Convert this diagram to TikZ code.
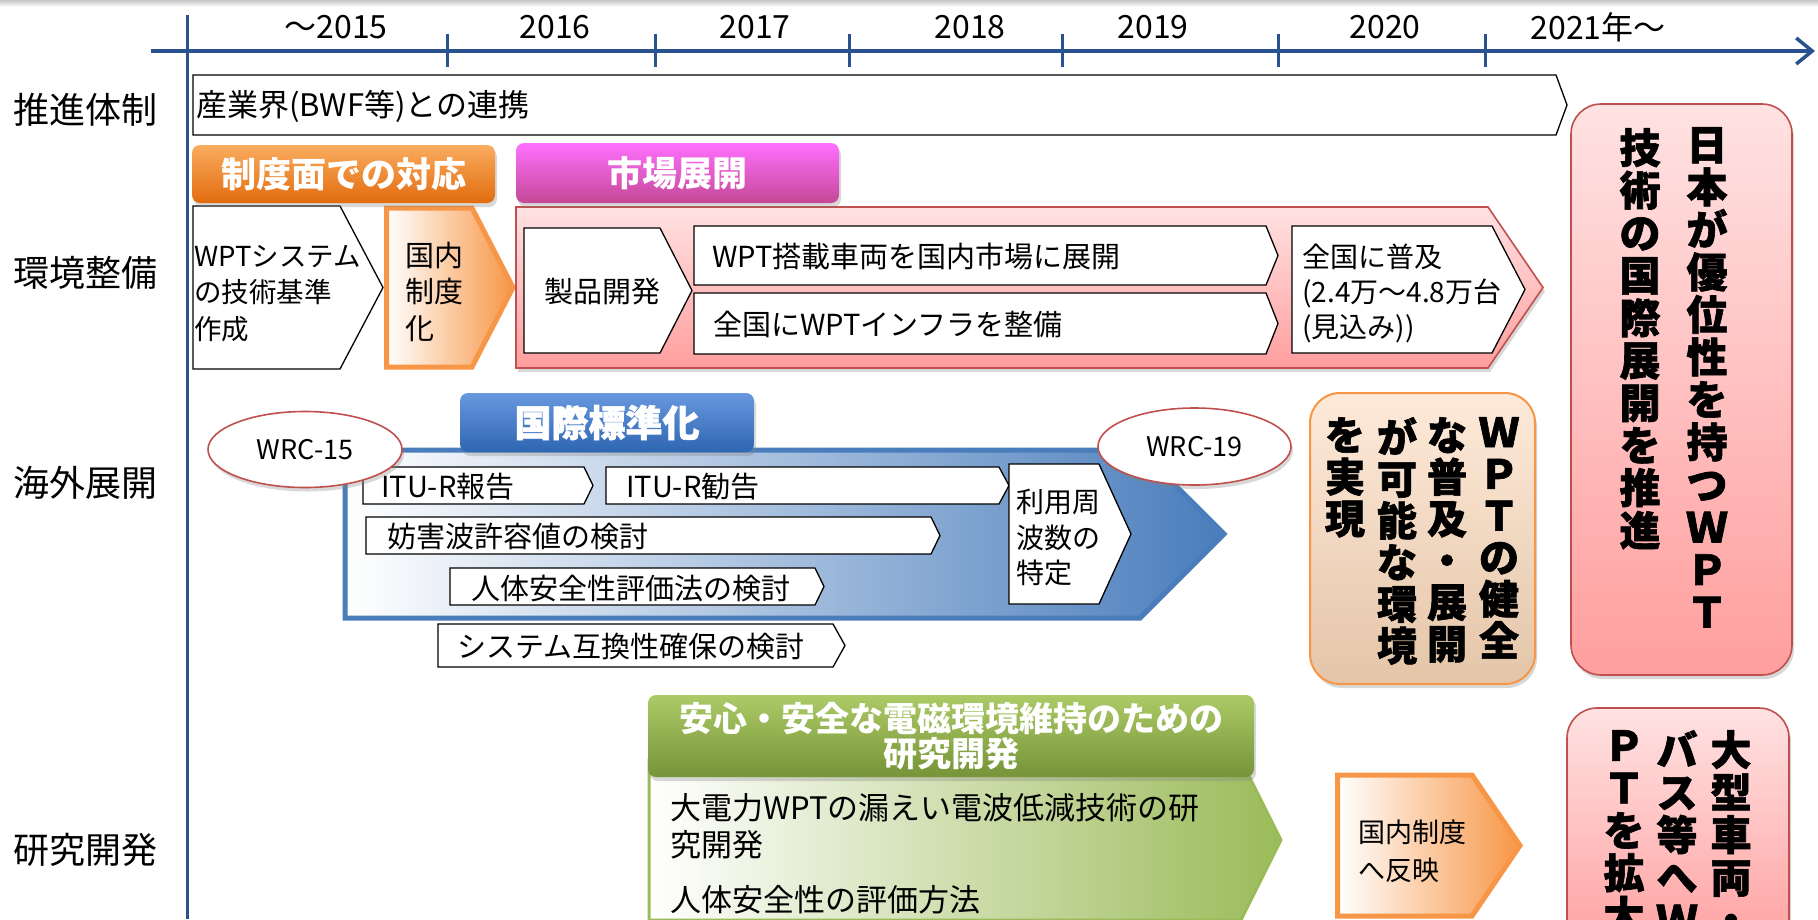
\documentclass[tikz,border=0pt]{standalone}
\usepackage{fontspec}
\setmainfont{Noto Sans CJK JP}
\newfontfamily\heavy[FakeBold=1.5]{Noto Sans CJK JP}
\usetikzlibrary{shadows,arrows.meta,shapes.geometric}
\newcommand\fsz[2]{\fontsize{#1}{#2}\selectfont}
\definecolor{axisblue}{RGB}{41,82,143}
\definecolor{orgA}{RGB}{250,172,95}
\definecolor{orgB}{RGB}{226,108,14}
\definecolor{orgline}{RGB}{247,150,70}
\definecolor{magA}{RGB}{255,112,255}
\definecolor{magB}{RGB}{196,72,150}
\definecolor{bluA}{RGB}{104,152,222}
\definecolor{bluB}{RGB}{46,102,178}
\definecolor{grnA}{RGB}{172,202,102}
\definecolor{grnB}{RGB}{118,148,56}
\definecolor{pinkA}{RGB}{255,226,226}
\definecolor{pinkB}{RGB}{255,158,158}
\definecolor{pinkline}{RGB}{192,80,77}
\definecolor{peachA}{RGB}{254,234,218}
\definecolor{peachM}{RGB}{251,212,175}
\definecolor{peachB}{RGB}{228,197,168}
\definecolor{steel}{RGB}{74,125,188}
\definecolor{steelM}{RGB}{186,202,226}
\definecolor{olive}{RGB}{155,187,89}
\definecolor{oliveM}{RGB}{208,222,178}
\definecolor{orgM}{RGB}{251,208,176}
\tikzset{
  axisline/.style={draw=axisblue,line width=3.5pt},
  year/.style={inner sep=0,font=\fsz{32}{36}},
  rowlab/.style={inner sep=0,font=\fsz{36}{40}},
  box/.style={draw=black,line width=1.3pt,fill=white},
  txt/.style={inner sep=0,align=left,font=\fsz{29}{36.5}},
  shd/.style={drop shadow={opacity=0.3,shadow xshift=2pt,shadow yshift=-4pt}},
  hdr/.style={rounded corners=8pt,inner sep=0,text=white,font=\bfseries\fsz{35}{36},shd},
  vtext/.style={inner sep=0,align=center,font=\heavy\bfseries\fsz{41}{42.5}},
  orgchev/.style={draw=orgline,line width=5pt,left color=white,middle color=orgM,right color=orgline},
  goalpink/.style={draw=pinkline,line width=1.6pt,rounded corners=30pt,top color=pinkA,bottom color=pinkB,shd},
}
\begin{document}
\begin{tikzpicture}[x=1pt,y=-1pt]
\useasboundingbox (0,0) rectangle (1818,919);
\clip (0,0) rectangle (1818,919);
\fill[white] (0,0) rectangle (1818,919);
\shade[top color=black!22,bottom color=white] (0,0) rectangle (1818,7);
% axis
\coordinate (ax0) at (151,51);
\coordinate (ax1) at (1815,51);
\coordinate (av0) at (187,15);
\coordinate (av1) at (187,919);
\draw[axisline,-{Straight Barb[length=16pt,width=26pt]}] (ax0) -- (ax1);
\draw[axisline,line width=3pt] (av0) -- (av1);
\foreach \x in {447,655,849,1062,1278,1485}{
  \coordinate (t\x a) at (\x,34);
  \coordinate (t\x b) at (\x,67);
  \draw[axisline,line width=3pt] (t\x a) -- (t\x b);
}
\node[year] (y15) at (336,27) {～2015};
\node[year] (y16) at (555,27) {2016};
\node[year] (y17) at (755,27) {2017};
\node[year] (y18) at (970,27) {2018};
\node[year] (y19) at (1153,27) {2019};
\node[year] (y20) at (1385,27) {2020};
\node[year] (y21) at (1598,27) {2021年～};
% row labels
\node[rowlab] (r1) at (85,110) {推進体制};
\node[rowlab] (r2) at (85,273) {環境整備};
\node[rowlab] (r3) at (85,483) {海外展開};
\node[rowlab] (r4) at (85,850) {研究開発};
% row 1
\path[box] (193,75) -- (1556,75) -- (1567,105) -- (1556,135) -- (193,135) -- cycle;
\node[txt,anchor=west,font=\fsz{31}{36}] (renkei) at (196,106) {産業界(BWF等)との連携};
% row 2
\path[box] (193,206) -- (340,206) -- (383,287.5) -- (340,369) -- (193,369) -- cycle;
\node[txt,anchor=base west,font=\fsz{27.5}{36.5}] (kijun) at (194,339) {WPTシステム\\の技術基準\\作成};
\path[orgchev] (386.5,208) -- (472,208) -- (513,287.5) -- (472,367) -- (386.5,367) -- cycle;
\node[txt,anchor=base west] (seidoka) at (405,339) {国内\\制度\\化};
\path[draw=pinkline,line width=1.6pt,top color=pinkA,bottom color=pinkB,shd]
  (516,207) -- (1488,207) -- (1543,287.5) -- (1488,368) -- (516,368) -- cycle;
\path[box] (524,228) -- (660,228) -- (692,290.5) -- (660,353) -- (524,353) -- cycle;
\node[txt] (seihin) at (602,292) {製品開発};
\path[box] (694,226) -- (1266,226) -- (1278,255.5) -- (1266,285) -- (694,285) -- cycle;
\node[txt,anchor=west] (tosai) at (712,256) {WPT搭載車両を国内市場に展開};
\path[box] (694,293) -- (1266,293) -- (1278,323.5) -- (1266,354) -- (694,354) -- cycle;
\node[txt,anchor=west] (infra) at (713,324) {全国にWPTインフラを整備};
\path[box] (1292,226) -- (1492,226) -- (1525,289.5) -- (1492,353) -- (1292,353) -- cycle;
\node[txt,anchor=base west,font=\fsz{28}{35}] (fukyu) at (1302,337.5) {全国に普及\\(2.4万～4.8万台\\(見込み))};
\node[hdr,top color=orgA,bottom color=orgB,minimum width=303,minimum height=58] (h1) at (343.5,174) {制度面での対応};
\node[hdr,top color=magA,bottom color=magB,minimum width=323,minimum height=60] (h2) at (677.5,173) {市場展開};
% row 3
\path[draw=steel,line width=5pt,left color=white,middle color=steelM,right color=steel]
  (345,450) -- (1140,450) -- (1224,534) -- (1140,618) -- (345,618) -- cycle;
\path[box] (363,467) -- (584,467) -- (593,485.5) -- (584,504) -- (363,504) -- cycle;
\node[txt,anchor=west] (itu1) at (381,487) {ITU-R報告};
\path[box] (606,467) -- (999,467) -- (1009,485.5) -- (999,504) -- (606,504) -- cycle;
\node[txt,anchor=west] (itu2) at (626,487) {ITU-R勧告};
\path[box] (366,517) -- (931,517) -- (940,535.5) -- (931,554) -- (366,554) -- cycle;
\node[txt,anchor=west] (bogai) at (387,537) {妨害波許容値の検討};
\path[box] (450,568) -- (815,568) -- (824,586.5) -- (815,605) -- (450,605) -- cycle;
\node[txt,anchor=west] (jintai) at (471,589) {人体安全性評価法の検討};
\path[box] (438,624) -- (833,624) -- (845,645.5) -- (833,667) -- (438,667) -- cycle;
\node[txt,anchor=west] (gokan) at (457,647) {システム互換性確保の検討};
\path[box] (1009,464) -- (1099,464) -- (1131,534) -- (1099,604) -- (1009,604) -- cycle;
\node[txt,anchor=base west,font=\fsz{28}{35.5}] (riyo) at (1016,583.5) {利用周\\波数の\\特定};
\node[hdr,top color=bluA,bottom color=bluB,minimum width=294,minimum height=59,font=\heavy\bfseries\fsz{37}{38}] (h3) at (607,422.5) {国際標準化};
\node[ellipse,draw=pinkline,line width=1.6pt,fill=white,shd,minimum width=194,minimum height=76,inner sep=0,font=\fsz{27}{30}] (wrc15) at (305,449.5) {WRC-15};
\node[ellipse,draw=pinkline,line width=1.6pt,fill=white,shd,minimum width=193,minimum height=77,inner sep=0,font=\fsz{27}{30}] (wrc19) at (1194.5,446.5) {WRC-19};
% row 4
\path[draw=olive,line width=3pt,left color=white,middle color=oliveM,right color=olive]
  (649,760) -- (1241,760) -- (1281,840) -- (1241,920) -- (649,920) -- cycle;
\node[txt,anchor=base west,font=\fsz{31}{37}] (taidenryoku) at (670,856.5) {大電力WPTの漏えい電波低減技術の研\\究開発};
\node[txt,anchor=base west,font=\fsz{31}{37}] (hyoka) at (670,911.5) {人体安全性の評価方法};
\node[hdr,top color=grnA,bottom color=grnB,minimum width=606,minimum height=82,align=center,font=\bfseries\fsz{34}{35}] (h4) at (951,736) {安心・安全な電磁環境維持のための\\研究開発};
\path[orgchev] (1337.5,775) -- (1472,775) -- (1520,845.5) -- (1472,916) -- (1337.5,916) -- cycle;
\node[txt,anchor=base west,font=\fsz{27}{38}] (hanei) at (1358,880) {国内制度\\へ反映};
% right boxes
\node[goalpink,minimum width=221,minimum height=571] (goal1) at (1681.5,389.5) {};
\node[vtext,anchor=north] (g1a) at (1707,127) {日\\本\\が\\優\\位\\性\\を\\持\\つ\\Ｗ\\Ｐ\\Ｔ};
\node[vtext,anchor=north] (g1b) at (1640,128) {技\\術\\の\\国\\際\\展\\開\\を\\推\\進};
\node[draw=orgline,line width=2pt,rounded corners=30pt,top color=peachA,middle color=peachM,bottom color=peachB,shd,minimum width=225,minimum height=291] (goal2) at (1422.5,538.5) {};
\node[vtext,anchor=north,font=\heavy\bfseries\fsz{40}{41.7}] (g2a) at (1499,417) {Ｗ\\Ｐ\\Ｔ\\の\\健\\全};
\node[vtext,anchor=north,font=\heavy\bfseries\fsz{40}{41.7}] (g2b) at (1447,417) {な\\普\\及\\・\\展\\開};
\node[vtext,anchor=north,font=\heavy\bfseries\fsz{40}{41.7}] (g2c) at (1397,417) {が\\可\\能\\な\\環\\境};
\node[vtext,anchor=north,font=\heavy\bfseries\fsz{40}{41.7}] (g2d) at (1345,417) {を\\実\\現};
\node[goalpink,minimum width=222,minimum height=252] (goal3) at (1678,834) {};
\node[vtext,anchor=north] (g3a) at (1731,730) {大\\型\\車\\両\\・};
\node[vtext,anchor=north] (g3b) at (1677,730) {バ\\ス\\等\\へ\\Ｗ};
\node[vtext,anchor=north] (g3c) at (1624,730) {Ｐ\\Ｔ\\を\\拡\\大};
\end{tikzpicture}
\end{document}
